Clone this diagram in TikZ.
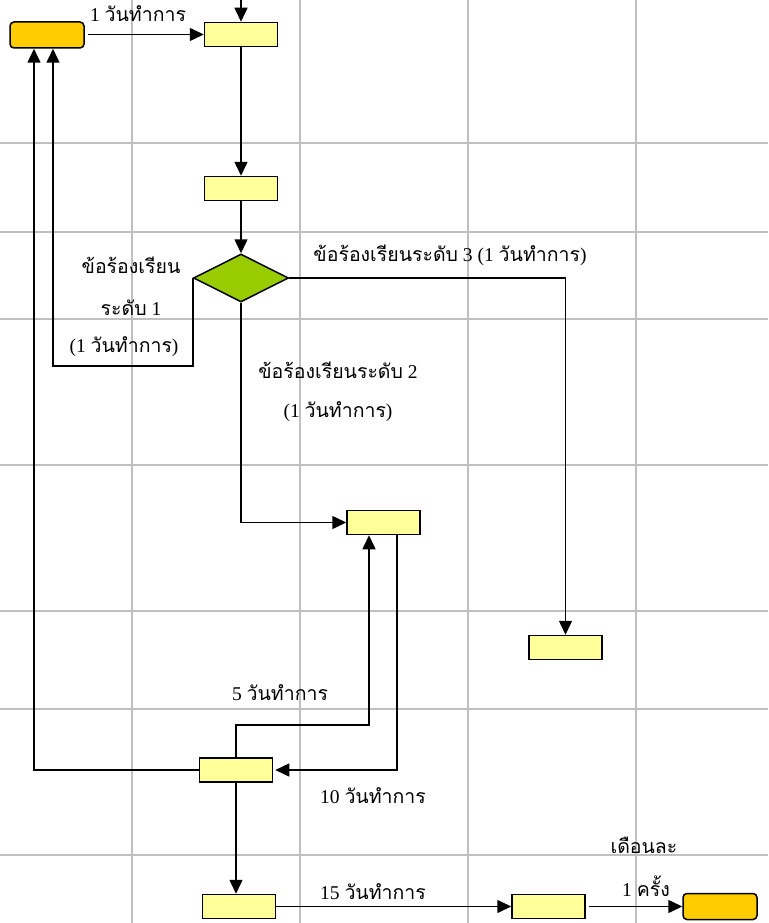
\documentclass[tikz,border=0pt]{standalone}
\usepackage{fontspec}
\setmainfont{Liberation Serif}
\newfontfamily\thaifont[Script=Thai]{Loma}
\newcommand{\thai}[1]{{\thaifont #1}}
\usetikzlibrary{arrows.meta,shapes.geometric}

\definecolor{boxyellow}{HTML}{FFFF99}
\definecolor{endorange}{HTML}{FFCC00}
\definecolor{choicegreen}{HTML}{99CC00}
\definecolor{gridgray}{HTML}{C0C0C0}

\begin{document}
\begin{tikzpicture}[x=1pt,y=-1pt,>={Triangle[length=14pt,width=13pt]},line width=1.5pt,
                    box node/.style={rectangle,draw,fill=boxyellow,minimum width=73pt,minimum height=24pt,inner sep=0pt},
                    end node/.style={rectangle,rounded corners=4pt,draw,fill=endorange,minimum width=74pt,minimum height=26pt,inner sep=0pt},
                    choice node/.style={diamond,draw,fill=choicegreen,minimum width=95pt,minimum height=48pt,inner sep=0pt},
                    label node/.style={font=\fontsize{19.5}{22}\selectfont,inner sep=0pt},
                    grid line/.style={draw=gridgray,line width=1.5pt}]

  \useasboundingbox (0,0) rectangle (768,923);

  % sheet grid
  \foreach \gx in {132,300,468,636}
    \draw[grid line] (\gx,0) -- (\gx,923);
  \foreach \gy in {143,232,319,465,611,709,855}
    \draw[grid line] (0,\gy) -- (768,\gy);

  \node[end node] (start) at (47,35) {};
  \node[box node] (1) at (241,34.5) {};
  \node[box node] (2) at (241,188.5) {};
  \node[choice node] (3) at (241,278) {};
  \node[box node] (4) at (383.5,522.5) {};
  \node[box node] (5) at (565.5,647.5) {};
  \node[box node] (6) at (236,770) {};
  \node[box node] (7) at (239,906.5) {};
  \node[box node] (8) at (548.5,906.5) {};
  \node[end node] (stop) at (720,906.5) {};

  \coordinate (in) at (241,0);

  % labels
  \node[label node] (t1) at (138,14) {1 \thai{วันทำการ}};
  \node[label node] (t2) at (131,265) {\thai{ข้อร้องเรียน}};
  \node[label node] (t3) at (131,308) {\thai{ระดับ} 1};
  \node[label node] (t4) at (124,347) {(1 \thai{วันทำการ})};
  \node[label node] (t5) at (450,255) {\thai{ข้อร้องเรียนระดับ} 3 (1 \thai{วันทำการ})};
  \node[label node] (t6) at (338,370) {\thai{ข้อร้องเรียนระดับ} 2};
  \node[label node] (t7) at (338,412) {(1 \thai{วันทำการ})};
  \node[label node] (t8) at (280,693) {5 \thai{วันทำการ}};
  \node[label node] (t9) at (373,796) {10 \thai{วันทำการ}};
  \node[label node] (t10) at (373,892) {15 \thai{วันทำการ}};
  \node[label node] (t11) at (644,845) {\thai{เดือนละ}};
  \node[label node] (t12) at (646,886) {1 \thai{ครั้ง}};

  \path[->]
    (in) edge (1)
    ([xshift=3pt]start.east |- 1.west) edge (1.west)
    (1) edge (2)
    (2) edge (3)
    (6.south) edge (6.south |- 7.north)
    (7) edge (8)
    ([xshift=3pt]8.east) edge (stop);

  \draw[->] (3.west) -- (3.west |- 0,366) -| ([xshift=6pt]start.south);
  \draw[->] (3.east) -| (5.north);
  \draw[->] (3.south) |- (4.west);
  \draw[->] (6.north) -- (6.north |- 0,725) -| ([xshift=-14.5pt]4.south);
  \draw[->] ([xshift=13.5pt]4.south) |- ([xshift=2pt]6.east);
  \draw[->] (6.west) -| ([xshift=-13pt]start.south);
\end{tikzpicture}
\end{document}
